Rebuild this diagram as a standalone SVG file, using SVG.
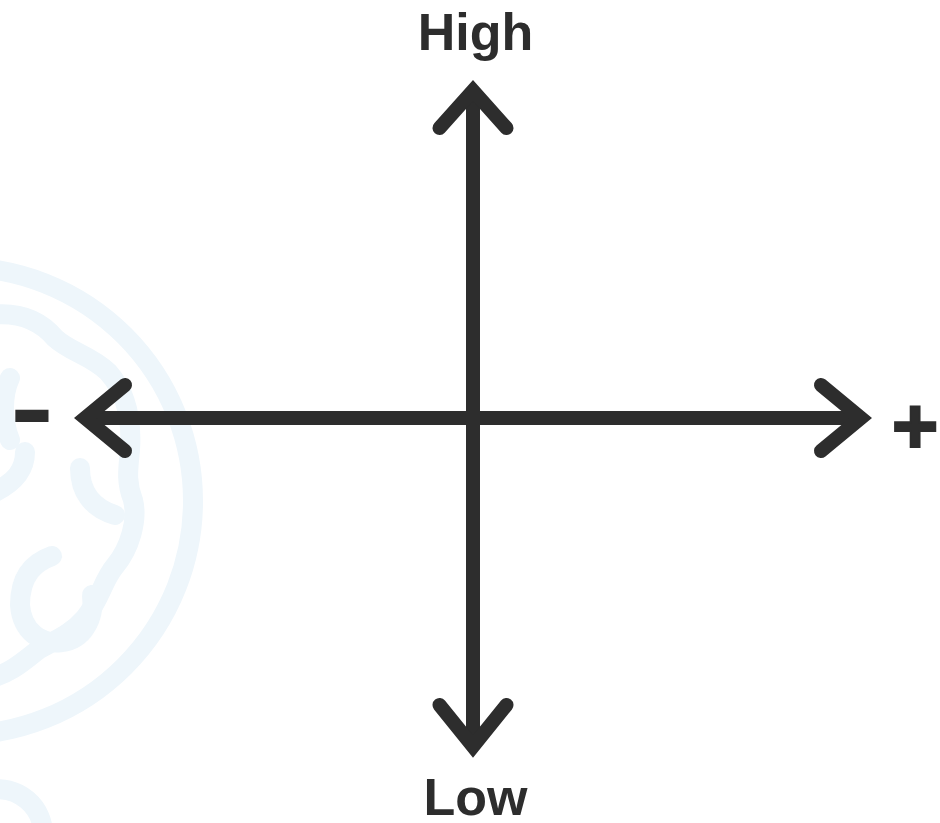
<svg xmlns="http://www.w3.org/2000/svg" width="940" height="823" viewBox="0 0 940 823">
<style>
.wm{fill:none;stroke:#eef6fb;stroke-width:20;stroke-linecap:round;stroke-linejoin:round}
.ax{fill:none;stroke:#2d2d2d;stroke-width:14}
.hd{fill:none;stroke:#2d2d2d;stroke-width:14;stroke-linecap:round;stroke-linejoin:miter;stroke-miterlimit:10}
.lb{font-family:"Liberation Sans",Arial,sans-serif;font-weight:bold;fill:#2d2d2d}
</style>
<rect width="940" height="823" fill="#ffffff"/>
<g id="watermark">
<circle class="wm" cx="-41" cy="501" r="234" stroke-width="21"/>
<path class="wm" d="M-10,315 C15,312 38,318 55,338 C70,352 90,355 108,372 C126,392 132,420 130,450 C128,470 126,482 133,500 C138,520 130,548 115,566 C103,580 100,600 85,618 C70,635 55,640 38,650 C25,660 10,674 -10,678"/>
<path class="wm" d="M25,452 C25,470 15,482 -5,492"/>
<path class="wm" d="M80,468 C80,492 92,508 115,515"/>
<path class="wm" d="M52,556 C35,562 20,575 20,605 C22,632 42,645 62,642 C82,640 95,620 92,595"/>
<path class="wm" d="M10,378 C2,395 2,420 10,440"/>
<path class="wm" d="M-10,790 A45,45 0 0 1 43,835"/>
</g>
<g id="connectors">
<line class="ax" x1="473" y1="92" x2="473" y2="745"/>
<line class="ax" x1="86" y1="418" x2="860" y2="418"/>
<polyline class="hd" points="439.5,128 473,90.5 506.5,128"/>
<polyline class="hd" points="439.5,705 473,746.5 506.5,705"/>
<polyline class="hd" points="125,385 85,418 125,451"/>
<polyline class="hd" points="821,385 861,418 821,451"/>
</g>
<g id="label-high"><text class="lb" x="475.5" y="50" font-size="52" text-anchor="middle">High</text></g>
<g id="label-low"><text class="lb" x="475.5" y="815" font-size="52" text-anchor="middle">Low</text></g>
<g id="label-minus"><text class="lb" transform="translate(32,442) scale(1.28,1)" font-size="102" text-anchor="middle">-</text></g>
<g id="label-plus"><text class="lb" x="915" y="453" font-size="80" text-anchor="middle" stroke="#2d2d2d" stroke-width="2">+</text></g>
</svg>
